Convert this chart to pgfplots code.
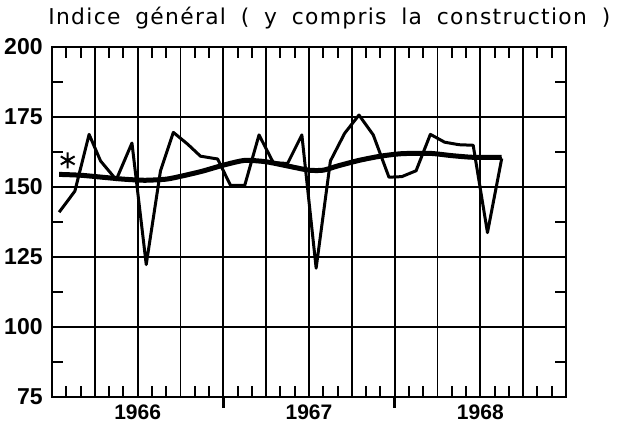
\documentclass[border=0pt]{standalone}
\usepackage{fontspec}
\setmainfont{Liberation Sans}
\newfontfamily\titlefont[LetterSpace=6,WordSpace=1.8]{DejaVu Sans}
\usepackage{pgfplots}
\pgfplotsset{compat=1.18}
\begin{document}
\begin{tikzpicture}
\useasboundingbox (0,0) rectangle (310.5pt,213pt);
\begin{axis}[
  at={(26pt,14.5pt)}, anchor=south west,
  scale only axis, width=257pt, height=175pt,
  xmin=0, xmax=36, ymin=75, ymax=200,
  xtick={3,6,...,33}, xticklabels={,1966,,,,1967,,,,1968,},
  ytick={75,100,...,200},
  minor xtick={1,2,4,5,7,8,10,11,13,14,16,17,19,20,22,23,25,26,28,29,31,32,34,35},
  minor ytick={87.5,112.5,137.5,162.5,187.5},
  major tick length=0pt, minor tick length=5.5pt,
  tick align=inside, xtick pos=both, ytick pos=both,
  xticklabel pos=bottom, yticklabel pos=left,
  grid=major, major grid style={line width=0.9pt, black},
  axis line style={line width=1.4pt},
  minor tick style={line width=1pt, black},
  /pgf/number format/assume math mode=true,
  yticklabel style={font=\bfseries\fontsize{11.5}{12}\selectfont, anchor=east, inner sep=0pt, xshift=-4.5pt},
  xticklabel style={font=\bfseries\fontsize{10.5}{12}\selectfont, anchor=north, inner sep=0pt, yshift=-3.5pt},
  clip=false,
]
% monthly index
\addplot[black, line width=1.5pt, line join=round] coordinates {
(0.5,141) (1.6,148.5) (2.6,168.8) (3.4,159.3) (4.5,152.6) (5.6,165.7)
(6.6,122.3) (7.6,155.8) (8.5,169.5) (9.5,165.3) (10.4,161) (11.6,160)
(12.5,150.6) (13.5,150.6) (14.5,168.6) (15.5,158.7) (16.5,158.4) (17.5,168.6)
(18.5,121) (19.5,159.3) (20.5,169.2) (21.5,175.7) (22.5,168.6) (23.6,153.5)
(24.5,153.7) (25.5,155.8) (26.5,168.8) (27.5,166) (28.5,165.1) (29.5,164.9)
(30.5,133.7) (31.5,160.2)
};
% trend
\addplot[black, line width=2.5pt, smooth, tension=0.4] coordinates {
(0.5,154.5) (2,154.2) (3.5,153.5) (5,152.8) (6.5,152.4) (8,152.8) (9,153.8)
(10.5,155.6) (12,157.8) (13.5,159.5) (15,159) (16.5,157.5) (18,156) (19,156)
(20,157.5) (21.5,159.5) (23,161) (24.5,161.9) (26.5,162) (28,161.2) (29.5,160.6) (31.5,160.6)
};
\addplot[only marks, black, mark=asterisk, mark size=4pt, mark options={line width=1pt}] coordinates {(1.1,159.5)};
\draw[line width=1.2pt] (12,75) -- ++(0pt,-5.5pt);
\draw[line width=1.2pt] (24,75) -- ++(0pt,-5.5pt);
\end{axis}
\node[anchor=west, inner sep=0pt] at (24pt,204pt) {\titlefont\fontsize{10.9}{12}\selectfont Indice général ( y compris la construction )};
\end{tikzpicture}
\end{document}
